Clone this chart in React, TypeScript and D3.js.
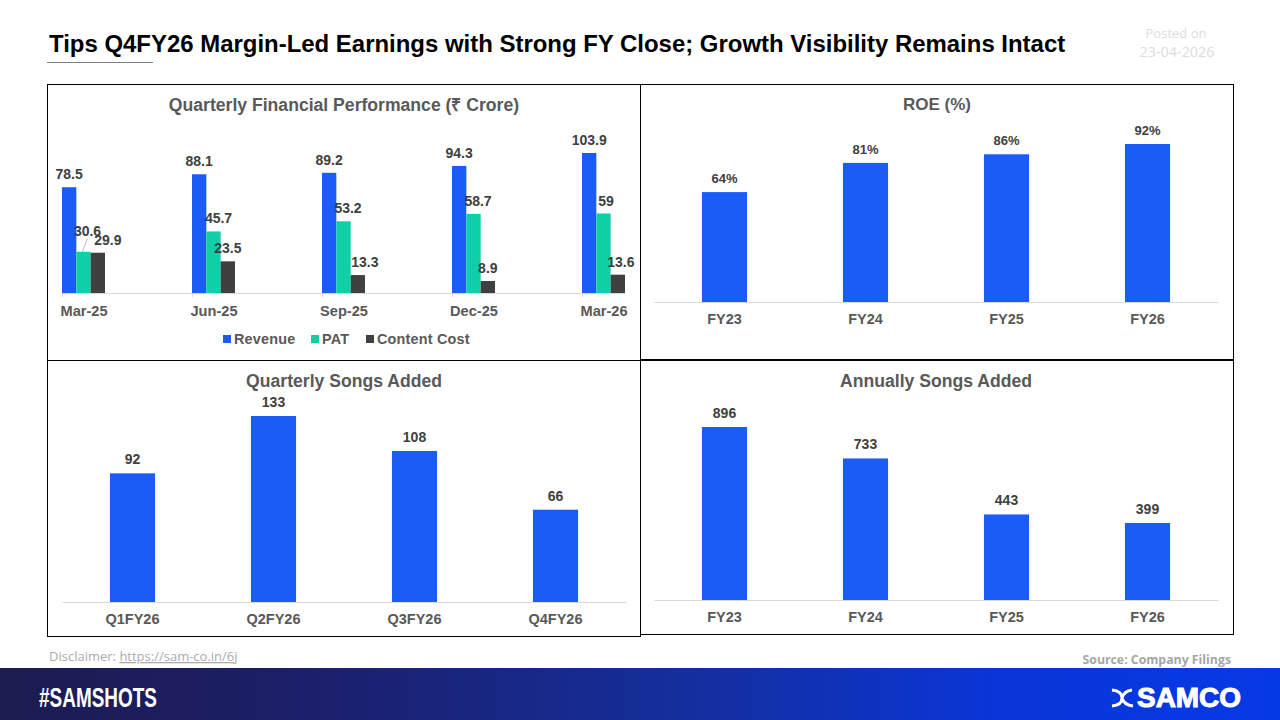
import * as d3 from "d3";
import { useEffect, useRef } from "react";

const months = ["Mar-25", "Jun-25", "Sep-25", "Dec-25", "Mar-26"];
const revenue = [78.5, 88.1, 89.2, 94.3, 103.9];
const pat = [30.6, 45.7, 53.2, 58.7, 59];
const contentCost = [29.9, 23.5, 13.3, 8.9, 13.6];
const seriesNames = ["Revenue", "PAT", "Content Cost"];
const seriesColors = ["#1a5cf5", "#0fcfa8", "#404040"];

const roeYears = ["FY23", "FY24", "FY25", "FY26"];
const roe = [64, 81, 86, 92];
const quarters = ["Q1FY26", "Q2FY26", "Q3FY26", "Q4FY26"];
const quarterSongs = [92, 133, 108, 66];
const annualYears = ["FY23", "FY24", "FY25", "FY26"];
const annualSongs = [896, 733, 443, 399];

// hand placed label nudges, same as the original chart
const patShift = [[4, -8], [5, 0], [4.5, 0], [4.5, 0], [2.5, 0]];
const costShift = [[10, 0], [0, 0], [7, 0], [0, 0], [3, 0]];

const FONT = "'Liberation Sans', Arial, sans-serif";
const SOFT = "'Open Sans', sans-serif";

function drawColumns(
  svg: d3.Selection<SVGSVGElement, unknown, null, undefined>,
  opts: {
    title: string; titleX: number; titleY: number;
    cats: string[]; values: number[]; suffix: string;
    left: number; right: number; base: number; top: number; titleSize: number; labelSize: number;
  }
) {
  const x = d3.scaleBand<string>().domain(opts.cats).range([opts.left, opts.right]).paddingInner(0.68).paddingOuter(0.34);
  const y = d3.scaleLinear().domain([0, d3.max(opts.values) as number]).range([opts.base, opts.top]);
  const g = svg.append("g");

  g.append("text").attr("x", opts.titleX).attr("y", opts.titleY).attr("text-anchor", "middle")
    .attr("font-size", opts.titleSize).attr("font-weight", 700).attr("fill", "#595959").text(opts.title);

  g.selectAll("rect").data(opts.values).enter().append("rect")
    .attr("x", (_, i) => x(opts.cats[i]) as number)
    .attr("width", x.bandwidth())
    .attr("y", d => y(d))
    .attr("height", d => opts.base - y(d))
    .attr("fill", seriesColors[0]);

  g.selectAll(".lbl").data(opts.values).enter().append("text")
    .attr("class", "lbl")
    .attr("x", (_, i) => (x(opts.cats[i]) as number) + x.bandwidth() / 2)
    .attr("y", d => y(d) - 9)
    .attr("text-anchor", "middle").attr("font-size", opts.labelSize).attr("font-weight", 700).attr("fill", "#404040")
    .text(d => d + opts.suffix);

  const axis = g.append("g").attr("transform", `translate(0,${opts.base})`)
    .call(d3.axisBottom(x).tickSize(0).tickPadding(12));
  axis.select(".domain").attr("stroke", "#d9d9d9");
  axis.selectAll("text").attr("font-family", FONT).attr("font-size", 14.5).attr("font-weight", 700).attr("fill", "#595959");
}

export default function App() {
  const svgRef = useRef<SVGSVGElement | null>(null);

  useEffect(() => {
    if (!svgRef.current) return;
    const svg = d3.select(svgRef.current);
    svg.selectAll("*").remove();
    svg.attr("font-family", FONT);

    const defs = svg.append("defs");
    const grad = defs.append("linearGradient").attr("id", "band");
    grad.append("stop").attr("offset", "0%").attr("stop-color", "#1c1c50");
    grad.append("stop").attr("offset", "24%").attr("stop-color", "#1c1f6a");
    grad.append("stop").attr("offset", "55%").attr("stop-color", "#142fa0");
    grad.append("stop").attr("offset", "78%").attr("stop-color", "#0a35d8");
    grad.append("stop").attr("offset", "100%").attr("stop-color", "#0639e6");

    svg.append("rect").attr("width", 1280).attr("height", 720).attr("fill", "#fff");

    // header
    svg.append("text").attr("x", 49).attr("y", 52).attr("font-size", 23.95).attr("font-weight", 700).attr("fill", "#000")
      .text("Tips Q4FY26 Margin-Led Earnings with Strong FY Close; Growth Visibility Remains Intact");
    svg.append("line").attr("x1", 47).attr("x2", 153).attr("y1", 62.5).attr("y2", 62.5).attr("stroke", "#808080");
    svg.append("text").attr("x", 1176).attr("y", 38).attr("text-anchor", "middle").attr("font-family", SOFT)
      .attr("font-size", 13).attr("fill", "#dcdcdc").text("Posted on");
    svg.append("text").attr("x", 1177).attr("y", 57).attr("text-anchor", "middle").attr("font-family", SOFT)
      .attr("font-size", 14.4).attr("fill", "#dcdcdc").text("23-04-2026");

    // panel frames
    const frames = [[47.5, 84.5, 593, 276], [640.5, 84.5, 593, 275], [47.5, 360.5, 593, 276], [640.5, 360.5, 593, 274]];
    frames.forEach(f => {
      svg.append("rect").attr("x", f[0]).attr("y", f[1]).attr("width", f[2]).attr("height", f[3])
        .attr("fill", "none").attr("stroke", "#000");
    });

    // quarterly financials
    const base = 293;
    const x0 = d3.scalePoint<string>().domain(months).range([62, 582]);
    const x1 = d3.scaleBand<string>().domain(seriesNames).range([0, 43]);
    const y = d3.scaleLinear().domain([0, 103.9]).range([base, 153]);
    const all = [revenue, pat, contentCost];

    svg.append("text").attr("x", 344).attr("y", 111).attr("text-anchor", "middle").attr("font-size", 17.6)
      .attr("font-weight", 700).attr("fill", "#595959").text("Quarterly Financial Performance (₹ Crore)");

    seriesNames.forEach((name, s) => {
      const g = svg.append("g");
      g.selectAll("rect").data(all[s]).enter().append("rect")
        .attr("x", (_, i) => (x0(months[i]) as number) + (x1(name) as number))
        .attr("width", x1.bandwidth())
        .attr("y", d => y(d))
        .attr("height", d => base - y(d))
        .attr("fill", seriesColors[s]);
    });

    const axis = svg.append("g").attr("transform", `translate(0,${base})`)
      .call(d3.axisBottom(x0).tickSize(4).tickPadding(9));
    axis.select(".domain").attr("d", "M62,0.5H625").attr("stroke", "#d9d9d9");
    axis.selectAll("line").attr("stroke", "#d9d9d9");
    axis.selectAll("text").attr("dx", 21.5).attr("font-family", FONT).attr("font-size", 14.6)
      .attr("font-weight", 700).attr("fill", "#595959");

    seriesNames.forEach((name, s) => {
      const g = svg.append("g");
      g.selectAll("text").data(all[s]).enter().append("text")
        .attr("x", (_, i) => {
          const nudge = s === 1 ? patShift[i][0] : s === 2 ? costShift[i][0] : 0;
          return (x0(months[i]) as number) + (x1(name) as number) + x1.bandwidth() / 2 + nudge;
        })
        .attr("y", (d, i) => y(d) - 8 + (s === 1 ? patShift[i][1] : s === 2 ? costShift[i][1] : 0))
        .attr("text-anchor", "middle").attr("font-size", 14).attr("font-weight", 700).attr("fill", "#404040")
        .text(d => d);
    });

    // leader line for the 30.6 label
    svg.append("line")
      .attr("x1", (x0(months[0]) as number) + (x1("PAT") as number) + 6)
      .attr("y1", y(pat[0]))
      .attr("x2", (x0(months[0]) as number) + (x1("PAT") as number) + 11)
      .attr("y2", y(pat[0]) - 13)
      .attr("stroke", "#bfbfbf");

    // legend
    const legendX = d3.scaleOrdinal<string, number>().domain(seriesNames).range([223, 311, 366]);
    seriesNames.forEach((name, s) => {
      svg.append("rect").attr("x", legendX(name)).attr("y", 335).attr("width", 8).attr("height", 8).attr("fill", seriesColors[s]);
      svg.append("text").attr("x", legendX(name) + 11).attr("y", 344).attr("font-size", 14.4).attr("letter-spacing", 0.2)
        .attr("font-weight", 700).attr("fill", "#595959").text(name);
    });

    drawColumns(svg, { title: "ROE (%)", titleX: 937, titleY: 110, cats: roeYears, values: roe, suffix: "%",
      left: 654, right: 1218, base: 302, top: 144, titleSize: 17, labelSize: 13 });
    drawColumns(svg, { title: "Quarterly Songs Added", titleX: 344, titleY: 387, cats: quarters, values: quarterSongs, suffix: "",
      left: 62, right: 626, base: 602, top: 416, titleSize: 17.6, labelSize: 14 });
    drawColumns(svg, { title: "Annually Songs Added", titleX: 936, titleY: 387, cats: annualYears, values: annualSongs, suffix: "",
      left: 654, right: 1218, base: 600, top: 427, titleSize: 17.6, labelSize: 14 });

    // footer
    const disc = svg.append("text").attr("x", 49).attr("y", 661).attr("font-family", SOFT).attr("font-size", 13).attr("fill", "#ababab");
    disc.append("tspan").text("Disclaimer: ");
    disc.append("tspan").attr("text-decoration", "underline").text("https://sam-co.in/6j");
    svg.append("text").attr("x", 1231).attr("y", 664).attr("text-anchor", "end").attr("font-family", SOFT)
      .attr("font-size", 12.3).attr("font-weight", 700).attr("fill", "#a6a6a6").text("Source: Company Filings");

    svg.append("rect").attr("y", 668).attr("width", 1280).attr("height", 52).attr("fill", "url(#band)");
    svg.append("text").attr("x", 39).attr("y", 707).attr("font-size", 28).attr("font-weight", 700).attr("fill", "#fff")
      .attr("textLength", 118).attr("lengthAdjust", "spacingAndGlyphs").text("#SAMSHOTS");

    // logo
    svg.append("path")
      .attr("d", "M1112,690Q1122,691 1122,698Q1122,705 1112,706M1132,690Q1124,691 1122,698M1122,698Q1124,705 1133,706")
      .attr("fill", "none").attr("stroke", "#fff").attr("stroke-width", 3);
    svg.append("text").attr("x", 1137).attr("y", 707).attr("font-size", 27).attr("font-weight", 700).attr("fill", "#fff")
      .attr("stroke", "#fff").attr("stroke-width", 1)
      .attr("textLength", 104).attr("lengthAdjust", "spacingAndGlyphs").text("SAMCO");
  }, []);

  return <svg ref={svgRef} width={1280} height={720} style={{ position: "absolute", left: 0, top: 0 }} />;
}
